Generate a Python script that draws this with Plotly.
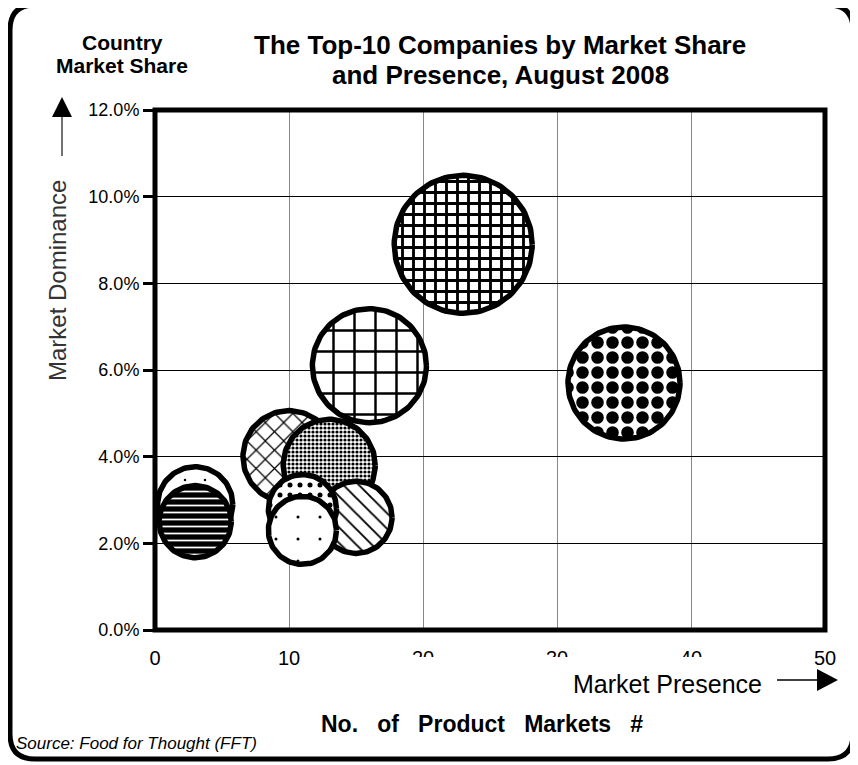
import numpy as np
import plotly.graph_objects as go

# Top-10 companies, listed in drawing order (back to front)
companies = ["Company 1", "Company 2", "Company 3", "Company 4", "Company 5",
             "Company 6", "Company 7", "Company 8", "Company 9", "Company 10"]
product_markets = [23, 35, 16, 10, 13, 15, 11, 11, 3, 3]
market_share = [0.089, 0.057, 0.061, 0.040, 0.038, 0.026, 0.028, 0.023, 0.029, 0.025]
bubble_value = [47.6, 31.4, 32.5, 21.2, 21.2, 13.0, 11.6, 11.6, 14.1, 13.0]

x_ticks = [0, 10, 20, 30, 40, 50]
y_ticks = [0.0, 0.02, 0.04, 0.06, 0.08, 0.10, 0.12]

# hatch style per bubble (same order as above)
patterns = [
    dict(shape="+", size=11, solidity=0.45),
    dict(shape=".", size=15, solidity=0.55),
    dict(shape="+", size=21, solidity=0.22),
    dict(shape="x", size=13, solidity=0.18),
    dict(shape=".", size=4, solidity=0.5),
    dict(shape="\\", size=11, solidity=0.17),
    dict(shape=".", size=10, solidity=0.2),
    dict(shape=".", size=22, solidity=0.015),
    dict(shape=".", size=20, solidity=0.012),
    dict(shape="-", size=7, solidity=0.25, fgcolor="white", bgcolor="black"),
]

W, H = 858, 765
OFF = 8  # page margin around the figure
L, T = 155 - OFF, 110 - OFF
plot_w, plot_h = 670, 520
R = W - L - plot_w
B = H - T - plot_h
x_max, y_max = 50, 0.12
px_x = plot_w / x_max
px_y = plot_h / y_max


# page pixel -> paper coordinates
def fx(p):
    return (p - OFF - L) / plot_w


def fy(p):
    return (T + plot_h - (p - OFF)) / plot_h


fig = go.Figure()

theta = np.linspace(0, 2 * np.pi, 121)
for name, xv, yv, val, pat in zip(companies, product_markets, market_share,
                                  bubble_value, patterns):
    r = 10 * np.sqrt(val)  # bubble radius in px
    pat = dict(dict(fgcolor="black", bgcolor="white", fgopacity=1), **pat)
    fig.add_trace(go.Scatter(
        x=xv + r / px_x * np.cos(theta),
        y=yv + r / px_y * np.sin(theta),
        mode="lines",
        fill="toself",
        fillcolor=pat["bgcolor"],
        fillpattern=pat,
        line=dict(color="black", width=5.5),
        name=name,
        hoveron="fills",
        text=f"{name}: {xv} markets, {yv:.1%}",
        hoverinfo="text",
        showlegend=False,
    ))

shapes = [
    # thick plot frame
    dict(type="rect", xref="paper", yref="paper", x0=0, y0=0, x1=1, y1=1,
         line=dict(color="black", width=5), layer="above"),
    # mask over the clipped x tick labels
    dict(type="rect", xref="paper", yref="paper", x0=fx(400), x1=fx(712),
         y0=fy(667), y1=fy(657), fillcolor="white", line=dict(width=0),
         layer="above"),
]

# rounded outer border
x0, y0, x1, y1, rr = 10, 5, 853, 759, 25
path = (f"M {fx(x0 + rr)},{fy(y0)} L {fx(x1 - rr)},{fy(y0)} "
        f"Q {fx(x1)},{fy(y0)} {fx(x1)},{fy(y0 + rr)} L {fx(x1)},{fy(y1 - rr)} "
        f"Q {fx(x1)},{fy(y1)} {fx(x1 - rr)},{fy(y1)} L {fx(x0 + rr)},{fy(y1)} "
        f"Q {fx(x0)},{fy(y1)} {fx(x0)},{fy(y1 - rr)} L {fx(x0)},{fy(y0 + rr)} "
        f"Q {fx(x0)},{fy(y0)} {fx(x0 + rr)},{fy(y0)} Z")
shapes.append(dict(type="path", xref="paper", yref="paper", path=path,
                   line=dict(color="black", width=5), layer="above"))

# arrows
shapes += [
    dict(type="line", xref="paper", yref="paper", x0=fx(62), x1=fx(62),
         y0=fy(116), y1=fy(156), line=dict(color="#444", width=1.5)),
    dict(type="path", xref="paper", yref="paper",
         path=f"M {fx(52)},{fy(117)} L {fx(62)},{fy(97)} L {fx(72)},{fy(117)} Z",
         fillcolor="black", line=dict(width=0)),
    dict(type="line", xref="paper", yref="paper", x0=fx(777), x1=fx(818),
         y0=fy(680), y1=fy(680), line=dict(color="black", width=1.5)),
    dict(type="path", xref="paper", yref="paper",
         path=f"M {fx(817)},{fy(669)} L {fx(838)},{fy(680)} L {fx(817)},{fy(691)} Z",
         fillcolor="black", line=dict(width=0)),
]

base = "Liberation Sans, Arial, sans-serif"


def note(text, x, y, size, bold=False, italic=False, xanchor="center",
         angle=0, color="black"):
    if bold:
        text = f"<b>{text}</b>"
    if italic:
        text = f"<i>{text}</i>"
    return dict(text=text, xref="paper", yref="paper", x=fx(x), y=fy(y),
                xanchor=xanchor, yanchor="middle", showarrow=False,
                textangle=angle, font=dict(family=base, size=size, color=color))


sp = "\u00a0\u00a0\u00a0"
annotations = [
    note("Country", 122, 42, 21, bold=True),
    note("Market Share", 122, 65, 21, bold=True),
    note("The Top-10 Companies by Market Share", 500, 45, 26, bold=True),
    note("and Presence, August 2008", 500, 75, 26, bold=True),
    note("Market Dominance", 57, 280, 24, angle=-90, color="#333"),
    note("Market Presence", 667, 684, 25),
    note(f"No.{sp}of{sp}Product{sp}Markets{sp}#", 482, 724, 23, bold=True),
    note("Source: Food for Thought (FFT)", 14, 743, 17, italic=True,
         xanchor="left"),
]

fig.update_layout(
    width=W, height=H, autosize=False,
    margin=dict(l=L, r=R, t=T, b=B),
    paper_bgcolor="white", plot_bgcolor="white",
    font=dict(family=base, color="black"),
    xaxis=dict(range=[0, x_max], tickvals=x_ticks, showgrid=True,
               gridcolor="#888", gridwidth=1, zeroline=False, showline=False,
               ticks="", ticklabelstandoff=14,
               tickfont=dict(size=20, family=base)),
    yaxis=dict(range=[0, y_max], tickvals=y_ticks, tickformat=".1%",
               showgrid=True, gridcolor="black", gridwidth=1, zeroline=False,
               showline=False, ticks="outside", ticklen=11, tickwidth=2.5,
               tickcolor="black", tickfont=dict(size=18, family=base)),
    shapes=shapes,
    annotations=annotations,
    hovermode="closest",
)

fig.write_html("out.html")
